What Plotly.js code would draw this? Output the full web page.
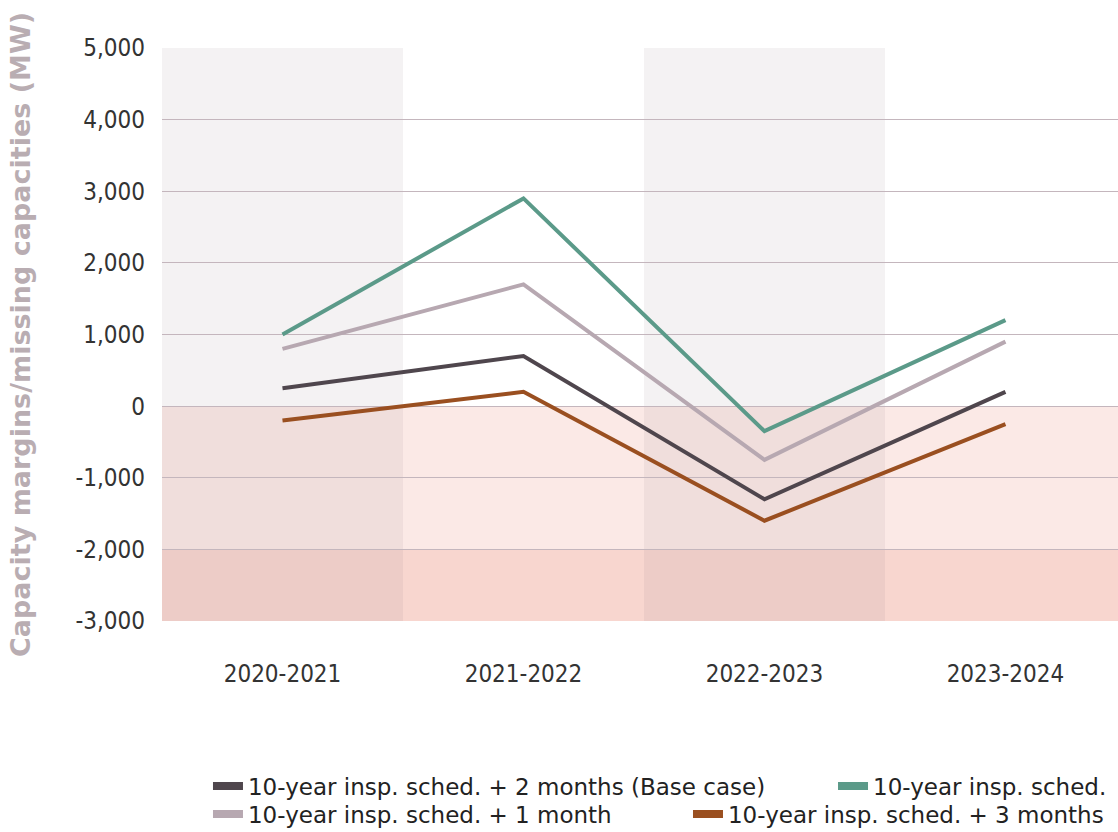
<!DOCTYPE html>
<html>
<head>
<meta charset="utf-8">
<script src="https://cdn.plot.ly/plotly-3.0.1.min.js"></script>
<style>
  html, body { margin: 0; padding: 0; background: #fff; }
  #chart { width: 1118px; height: 832px; }
</style>
</head>
<body>
<div id="chart"></div>
<script>
// seasons on the x axis
var seasons = ["2020-2021", "2021-2022", "2022-2023", "2023-2024"];

// capacity margins (MW) per scenario
var baseCase = [250, 700, -1300, 200];      // + 2 months (Base case)
var schedOnly = [1000, 2900, -350, 1200];   // 10-year insp. sched.
var plusOne = [800, 1700, -750, 900];       // + 1 month
var plusThree = [-200, 200, -1600, -250];   // + 3 months

// y tick labels (plain hyphen for negatives, as in the original)
var yTickVals = [-3000, -2000, -1000, 0, 1000, 2000, 3000, 4000, 5000];
var yTickText = ["-3,000", "-2,000", "-1,000", "0", "1,000", "2,000", "3,000", "4,000", "5,000"];

var names = [
  "10-year insp. sched. + 2 months (Base case)",
  "10-year insp. sched.",
  "10-year insp. sched. + 1 month",
  "10-year insp. sched. + 3 months"
];
var colors = ["#4f464d", "#5b9a89", "#b7a8b1", "#9a4f20"];
var series = [baseCase, schedOnly, plusOne, plusThree];
var legendIds = ["legend", "legend2", "legend3", "legend4"];

var data = [];
// draw order: light, green, dark, brown (brown on top)
[2, 1, 0, 3].forEach(function (i) {
  data.push({
    x: seasons,
    y: series[i],
    type: "scatter",
    mode: "lines",
    line: {color: colors[i], width: 4},
    showlegend: false,
    hoverinfo: "x+y"
  });
});
// legend-only entries (thicker swatch)
for (var i = 0; i < 4; i++) {
  data.push({
    x: [null],
    y: [null],
    type: "scatter",
    mode: "lines",
    name: names[i],
    line: {color: colors[i], width: 8},
    legend: legendIds[i],
    hoverinfo: "skip"
  });
}

// background bands
var shapes = [
  {type: "rect", xref: "paper", yref: "y", x0: 0, x1: 1, y0: -2000, y1: 0,
   fillcolor: "#fbe9e6", line: {width: 0}, layer: "below"},
  {type: "rect", xref: "paper", yref: "y", x0: 0, x1: 1, y0: -3000, y1: -2000,
   fillcolor: "#f8d6cf", line: {width: 0}, layer: "below"}
];
[0, 2].forEach(function (k) {
  shapes.push({type: "rect", xref: "x", yref: "y", x0: k - 0.5, x1: k + 0.5,
    y0: -3000, y1: 5000, fillcolor: "rgba(130,110,120,0.09)",
    line: {width: 0}, layer: "below"});
});

var legFont = {family: "DejaVu Sans", size: 23, color: "#222"};
function leg(x, y) {
  return {orientation: "h", x: x, y: y, xanchor: "left", yanchor: "middle",
    font: legFont, bgcolor: "rgba(0,0,0,0)", itemclick: false};
}

var tickFont = {family: "DejaVu Sans Condensed", size: 24, color: "#333"};

var layout = {
  width: 1118,
  height: 832,
  margin: {l: 162, r: 0, t: 48, b: 211, autoexpand: false},
  paper_bgcolor: "#ffffff",
  plot_bgcolor: "#ffffff",
  font: {family: "DejaVu Sans", color: "#333"},
  xaxis: {
    type: "category",
    range: [-0.5, 3.467],
    showgrid: false,
    zeroline: false,
    showline: false,
    ticks: "",
    ticklabelstandoff: 36,
    tickfont: tickFont
  },
  yaxis: {
    range: [-3000, 5000],
    tickvals: yTickVals,
    ticktext: yTickText,
    showgrid: true,
    gridcolor: "#c4b6bd",
    gridwidth: 1,
    zeroline: false,
    showline: false,
    ticks: "",
    ticklabelstandoff: 16,
    tickfont: tickFont,
    title: {
      text: "Capacity margins/missing capacities (MW)",
      font: {family: "DejaVu Sans", size: 27, color: "#b9adb2", weight: "bold"},
      standoff: 36
    },
    automargin: false
  },
  shapes: shapes,
  legend: leg(0.0481, -0.288),
  legend2: leg(0.7019, -0.288),
  legend3: leg(0.0481, -0.337),
  legend4: leg(0.5502, -0.337),
  showlegend: true
};

Plotly.newPlot("chart", data, layout, {displayModeBar: false});
</script>
</body>
</html>
